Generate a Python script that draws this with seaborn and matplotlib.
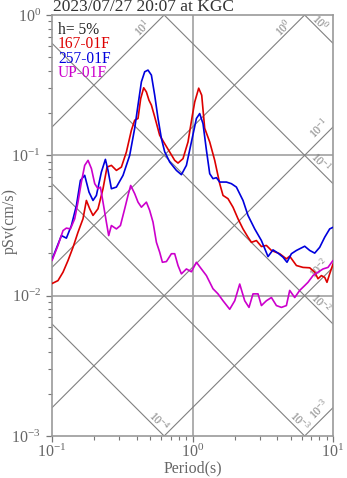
import numpy as np
import pandas as pd
import matplotlib
matplotlib.use("Agg")
import matplotlib.pyplot as plt
import seaborn as sns
from matplotlib.ticker import LogLocator, LogFormatterSciNotation, NullFormatter

# ---- chart text -------------------------------------------------------------
TITLE = "2023/07/27 20:07 at KGC"
DAMPING = "h= 5%"
X_LABEL = "Period(s)"
Y_LABEL = "pSv(cm/s)"
COMPONENTS = ["167-01F", "257-01F", "UP-01F"]
COLORS = ["#dd0000", "#0000dd", "#cc00cc"]

# ---- pseudo-velocity response spectra (period in s, pSv in cm/s) -----------
period_167 = [0.1, 0.1103, 0.1198, 0.13, 0.1411, 0.1531, 0.1662, 0.1757, 0.1855, 0.1958,
              0.2125, 0.2307, 0.2464, 0.2647, 0.2873, 0.3119, 0.3384, 0.3673, 0.3878, 0.4094,
              0.4279, 0.4494, 0.4697, 0.49, 0.5098, 0.5383, 0.584, 0.634, 0.6882, 0.7469,
              0.7887, 0.8558, 0.929, 0.998, 1.037, 1.107, 1.163, 1.221, 1.326, 1.439,
              1.562, 1.649, 1.789, 1.942, 2.108, 2.288, 2.483, 2.626, 2.85, 3.094,
              3.357, 3.645, 4.174, 4.659, 4.918, 5.49, 6.116, 6.83, 7.41, 7.82,
              8.27, 8.73, 9.06, 9.47, 10.0]
psv_167 = [0.0122, 0.0128, 0.0147, 0.0178, 0.0221, 0.0283, 0.0353, 0.0477, 0.0416, 0.0373,
           0.0416, 0.0578, 0.0825, 0.0848, 0.0781, 0.0825, 0.1056, 0.151, 0.178, 0.183,
           0.254, 0.303, 0.283, 0.247, 0.228, 0.188, 0.139, 0.121, 0.1056, 0.0921,
           0.0881, 0.0947, 0.1245, 0.193, 0.240, 0.301, 0.268, 0.156, 0.1245, 0.0921,
           0.0628, 0.0518, 0.0491, 0.0427, 0.0353, 0.0299, 0.0261, 0.0240, 0.0247, 0.0224,
           0.0228, 0.0210, 0.0199, 0.0183, 0.0191, 0.0164, 0.0159, 0.0158, 0.0147, 0.0132,
           0.0139, 0.0135, 0.01245, 0.0143, 0.0168]

period_257 = [0.1, 0.1167, 0.1266, 0.1374, 0.1492, 0.1593, 0.1709, 0.1834, 0.1958, 0.207,
              0.2246, 0.2399, 0.2504, 0.2647, 0.2873, 0.3203, 0.3573, 0.3878, 0.4094, 0.4328,
              0.4568, 0.4822, 0.5098, 0.5383, 0.568, 0.6005, 0.634, 0.6882, 0.768, 0.8337,
              0.9049, 0.9822, 1.066, 1.125, 1.188, 1.256, 1.326, 1.399, 1.48, 1.562,
              1.743, 1.892, 2.053, 2.288, 2.483, 2.772, 3.094, 3.447, 3.741, 4.06,
              4.407, 4.706, 5.057, 5.49, 6.29, 6.83, 7.41, 8.04, 8.73, 9.47, 10.0]
psv_257 = [0.0181, 0.0268, 0.0257, 0.0316, 0.0439, 0.0663, 0.0720, 0.0547, 0.0477, 0.0518,
           0.0760, 0.0936, 0.0781, 0.0578, 0.0594, 0.0720, 0.100, 0.156, 0.228, 0.334,
           0.394, 0.405, 0.373, 0.268, 0.184, 0.132, 0.106, 0.0896, 0.0781, 0.0728,
           0.0848, 0.1245, 0.183, 0.1985, 0.168, 0.109, 0.074, 0.0682, 0.0693, 0.0645,
           0.0645, 0.0628, 0.0594, 0.0477, 0.0373, 0.0299, 0.0247, 0.0190, 0.0212, 0.0201,
           0.0188, 0.0173, 0.0199, 0.0210, 0.0225, 0.0210, 0.0201, 0.0221, 0.0261, 0.0299,
           0.0307]

period_up = [0.1, 0.1103, 0.1198, 0.1266, 0.1352, 0.1451, 0.1531, 0.1619, 0.1709, 0.1805,
             0.1908, 0.2014, 0.2125, 0.2211, 0.2307, 0.2438, 0.2532, 0.2647, 0.2873, 0.3069,
             0.3292, 0.3475, 0.3632, 0.3878, 0.4094, 0.4328, 0.4697, 0.4957, 0.5236, 0.5535,
             0.584, 0.6106, 0.6521, 0.7077, 0.7469, 0.7887, 0.8337, 0.9049, 0.9822, 1.066,
             1.157, 1.256, 1.399, 1.519, 1.649, 1.84, 1.998, 2.168, 2.353, 2.524,
             2.695, 2.926, 3.094, 3.357, 3.645, 3.956, 4.293, 4.659, 4.918, 5.34,
             5.794, 6.29, 6.637, 7.206, 7.82, 8.49, 9.21, 10.0]
psv_up = [0.0178, 0.0228, 0.0291, 0.0303, 0.0299, 0.0353, 0.0464, 0.0645, 0.0848, 0.0921,
          0.0804, 0.0628, 0.0578, 0.0594, 0.0464, 0.0334, 0.0268, 0.0316, 0.0299, 0.0316,
          0.0416, 0.0518, 0.0610, 0.0533, 0.0464, 0.0427, 0.0464, 0.0405, 0.0334, 0.0240,
          0.0204, 0.0173, 0.0175, 0.0199, 0.0199, 0.0164, 0.0143, 0.0155, 0.0148, 0.0173,
          0.0155, 0.0139, 0.0112, 0.0103, 0.0092, 0.0080, 0.0092, 0.0121, 0.0092, 0.00825,
          0.0103, 0.0103, 0.0085, 0.0092, 0.0097, 0.0085, 0.00825, 0.0085, 0.0109, 0.0097,
          0.0109, 0.0118, 0.01245, 0.0139, 0.0147, 0.0155, 0.0159, 0.0178]

# tripartite guide levels: displacement (cm) and acceleration (cm/s^2)
disp_levels = [1e0, 1e-1, 1e-2, 1e-3, 1e-4]
acc_levels = [1e1, 1e0, 1e-1, 1e-2, 1e-3]

# ---- style --------------------------------------------------------------------
sns.set_theme(style="ticks")
plt.rcParams["font.family"] = ["Liberation Serif", "DejaVu Serif"]
plt.rcParams["mathtext.fontset"] = "custom"
plt.rcParams["mathtext.rm"] = "Liberation Serif"
plt.rcParams["mathtext.it"] = "Liberation Serif:italic"
plt.rcParams["mathtext.bf"] = "Liberation Serif:bold"
plt.rcParams["axes.unicode_minus"] = False

GRAY_TXT = "#666666"
GRAY_GRID = "#a8a8a8"
GRAY_DIAG = "#808080"

df = pd.concat([
    pd.DataFrame({"Period": period_167, "pSv": psv_167, "component": COMPONENTS[0]}),
    pd.DataFrame({"Period": period_257, "pSv": psv_257, "component": COMPONENTS[1]}),
    pd.DataFrame({"Period": period_up, "pSv": psv_up, "component": COMPONENTS[2]}),
], ignore_index=True)

fig = plt.figure(figsize=(3.47, 4.78), dpi=100)
fig.patch.set_facecolor("white")
ax = fig.add_axes([52 / 347, 42 / 478, 281 / 347, 421 / 478])
ax.set_facecolor("white")
ax.set_xscale("log")
ax.set_yscale("log")

# decade grid
for v in (1e-2, 1e-1):
    ax.axhline(v, color=GRAY_GRID, lw=1.3, zorder=1)
ax.axvline(1.0, color=GRAY_GRID, lw=1.3, zorder=1)

# constant displacement / acceleration diagonals
two_pi = 2 * np.pi
t_line = np.array([0.1, 10.0])
for d in disp_levels:
    ax.plot(t_line, two_pi * d / t_line, color=GRAY_DIAG, lw=0.8, zorder=1)
for a in acc_levels:
    ax.plot(t_line, a * t_line / two_pi, color=GRAY_DIAG, lw=0.8, zorder=1)

px2pt = 72 / 100
r2 = np.sqrt(2)


def power_label(v):
    return r"$10^{%d}$" % int(round(np.log10(v)))


for d in disp_levels:
    sv_end = two_pi * d / 10.0
    if sv_end >= 1e-3:
        xy, b, p = (10.0, sv_end), 24, 6
    else:
        xy, b, p = (two_pi * d / 1e-3, 1e-3), 14, 6.5
    dx, dy = (-b + p) / r2, (b + p) / r2
    ax.annotate(power_label(d), xy=xy, xytext=(dx * px2pt, dy * px2pt),
                textcoords="offset points", rotation=-45, rotation_mode="anchor",
                ha="center", va="center", fontsize=8.5, color=GRAY_DIAG,
                annotation_clip=False)

for a in acc_levels:
    sv_end = a * 10.0 / two_pi
    if sv_end > 1.0:
        xy, b, p = (two_pi / a, 1.0), 24, 6
    else:
        xy, b, p = (10.0, sv_end), 11, 9
    dx, dy = (-b - p) / r2, (-b + p) / r2
    ax.annotate(power_label(a), xy=xy, xytext=(dx * px2pt, dy * px2pt),
                textcoords="offset points", rotation=45, rotation_mode="anchor",
                ha="center", va="center", fontsize=8.5, color=GRAY_DIAG,
                annotation_clip=False)

# spectra
sns.lineplot(data=df, x="Period", y="pSv", hue="component", hue_order=COMPONENTS,
             palette=dict(zip(COMPONENTS, COLORS)), estimator=None, sort=False,
             lw=1.2, legend=False, ax=ax, zorder=3)

ax.set_xlim(0.1, 10)
ax.set_ylim(1e-3, 1)

# axes, ticks and labels
for s in ax.spines.values():
    s.set_color("#999999")
    s.set_linewidth(1.2)
for axis in (ax.xaxis, ax.yaxis):
    axis.set_major_locator(LogLocator(base=10, numticks=10))
    axis.set_minor_locator(LogLocator(base=10, subs=np.arange(2, 10), numticks=10))
    axis.set_major_formatter(LogFormatterSciNotation())
    axis.set_minor_formatter(NullFormatter())
ax.tick_params(which="major", direction="out", length=4, width=0.9, color="#777777",
               labelsize=11.5, labelcolor=GRAY_TXT)
ax.tick_params(axis="x", which="major", pad=1.5)
ax.tick_params(axis="y", which="major", pad=4)
ax.tick_params(which="minor", direction="out", length=3, width=0.8, color="#777777")
ax.tick_params(top=False, right=False, which="both")

ax.set_xlabel(X_LABEL, fontsize=11.5, color=GRAY_TXT)
ax.set_ylabel(Y_LABEL, fontsize=11.5, color=GRAY_TXT)
ax.xaxis.set_label_coords(0.5, -0.057)
ax.yaxis.set_label_coords(-0.122, 0.51)

fig.text(53 / 347, 1 - 11 / 478, TITLE, ha="left", va="baseline", fontsize=12.5,
         color="#333333")

legend_rows = [(DAMPING, "#222222")] + list(zip(COMPONENTS, COLORS))
for i, (txt, col) in enumerate(legend_rows):
    ax.text(0.021, (436 - (34 + 14.3 * i)) / 421, txt, transform=ax.transAxes,
            ha="left", va="baseline", fontsize=11.2, color=col, zorder=4)

fig.savefig("out.png", dpi=100, facecolor="white")
